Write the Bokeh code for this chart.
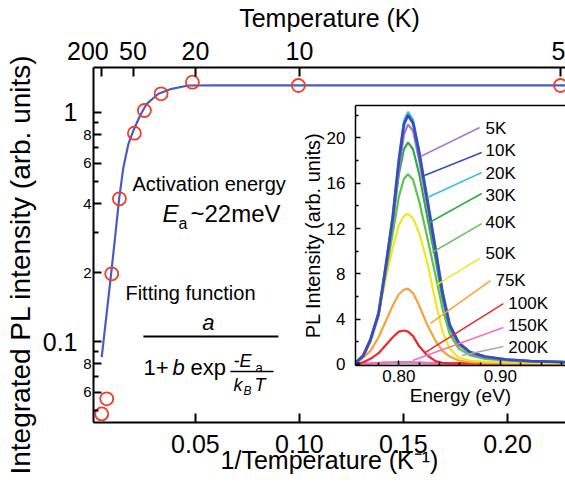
from bokeh.plotting import figure
from bokeh.models import LinearAxis, LogAxis, FixedTicker, Grid
from bokeh.layouts import column
from bokeh.core.properties import value
from bokeh.embed import file_html
from bokeh.resources import INLINE

FONT = "Liberation Sans"
NB = "\u00a0"

# ---------------- main plot data ----------------
temps_K = [200, 150, 100, 75, 50, 40, 30, 20, 10, 5]
inv_temp = [0.00495, 0.00736, 0.00976, 0.01346, 0.02067, 0.02548, 0.03351, 0.04856, 0.0995, 0.2255]
pl_integrated = [0.0483, 0.0562, 0.1975, 0.420, 0.812, 1.02, 1.207, 1.356, 1.312, 1.312]

fit_inv_temp = [0.00495, 0.00659, 0.00947, 0.01139, 0.01332, 0.01538, 0.01779, 0.02019,
                0.02341, 0.02659, 0.03221, 0.0386, 0.0466, 0.06, 0.1, 0.15, 0.228]
fit_pl = [0.0855, 0.1155, 0.1975, 0.2854, 0.420, 0.577, 0.730, 0.834,
          0.970, 1.091, 1.207, 1.269, 1.312, 1.313, 1.313, 1.313, 1.313]

top_tick_pos = [0.005, 0.02, 0.05, 0.1, 0.2255]
top_tick_labels = ["200" + NB * 4, "50", "20", "10", "5"]
bottom_ticks = [0.05, 0.10, 0.15, 0.20]
bottom_tick_labels = ["0.05", "0.10", "0.15", "0.20"]
left_small_ticks = [0.06, 0.08, 0.1, 0.2, 0.4, 0.6, 0.8, 1.0]
left_small_labels = ["6", "8", "", "2", "4", "6", "8", ""]
left_minor_ticks = [0.05, 0.07, 0.09, 0.3, 0.5, 0.7, 0.9]
left_big_ticks = [0.1, 1.0]
left_big_labels = ["0.1", "1"]

# ---------------- inset data ----------------
energy_eV = [0.757, 0.765, 0.772, 0.780, 0.787, 0.794, 0.800, 0.805, 0.809, 0.814, 0.820,
             0.828, 0.836, 0.843, 0.850, 0.859, 0.870, 0.885, 0.905, 0.930, 0.965]
pl_5K = [0.1, 0.7, 2.0, 4.3, 8.3, 12.6, 17.2, 20.3, 21.2, 20.6, 18.0, 14.0, 9.8, 6.1, 3.3, 1.8, 1.0, 0.6, 0.4, 0.3, 0.2]
pl_10K = [0.1, 0.8, 2.2, 4.5, 8.6, 13.0, 18.0, 21.2, 22.0, 21.3, 18.7, 14.5, 10.2, 6.3, 3.5, 1.9, 1.1, 0.7, 0.45, 0.3, 0.2]
pl_20K = [0.1, 0.8, 2.2, 4.6, 8.7, 13.2, 18.2, 21.5, 22.3, 21.6, 18.9, 14.7, 10.4, 6.5, 3.6, 1.9, 1.1, 0.7, 0.45, 0.3, 0.2]
pl_30K = [0.1, 0.8, 2.2, 4.5, 8.3, 12.5, 16.8, 19.0, 19.6, 19.0, 16.8, 13.0, 9.3, 5.8, 3.2, 1.7, 1.0, 0.6, 0.4, 0.3, 0.2]
pl_40K = [0.1, 0.8, 2.1, 4.4, 8.0, 11.6, 14.8, 16.4, 16.8, 16.3, 14.4, 11.2, 7.9, 4.9, 2.7, 1.4, 0.8, 0.5, 0.35, 0.25, 0.2]
pl_50K = [0.1, 0.8, 2.1, 4.3, 7.6, 10.3, 12.3, 13.1, 13.3, 12.9, 11.6, 9.0, 5.6, 2.9, 1.4, 0.6, 0.35, 0.25, 0.2, 0.15, 0.1]
pl_75K = [0.1, 0.6, 1.2, 2.4, 3.8, 5.2, 6.2, 6.6, 6.7, 6.3, 5.2, 3.5, 2.1, 1.2, 0.7, 0.35, 0.2, 0.15, 0.1, 0.1, 0.1]
pl_100K = [0.05, 0.2, 0.5, 1.0, 1.7, 2.4, 2.9, 3.0, 2.9, 2.5, 1.6, 0.8, 0.3, 0.15, 0.1, 0.1, 0.1, 0.1, 0.1, 0.1, 0.1]
pl_150K = [0.1, 0.1, 0.12, 0.15, 0.18, 0.2, 0.22, 0.22, 0.22, 0.2, 0.18, 0.15, 0.12, 0.1, 0.1, 0.1, 0.1, 0.1, 0.1, 0.1, 0.1]
pl_200K = [0.05, 0.05, 0.06, 0.07, 0.08, 0.09, 0.1, 0.1, 0.1, 0.1, 0.09, 0.08, 0.07, 0.06, 0.06, 0.05, 0.05, 0.05, 0.05, 0.05, 0.05]

series_labels = ["5K", "10K", "20K", "30K", "40K", "50K", "75K", "100K", "150K", "200K"]
series_values = [pl_5K, pl_10K, pl_20K, pl_30K, pl_40K, pl_50K, pl_75K, pl_100K, pl_150K, pl_200K]
series_colors = ["#9a7fd0", "#3b4db8", "#35c0e8", "#2fae3f", "#5ec24e",
                 "#f2e61c", "#f8a23a", "#ea2a2a", "#f070c0", "#a9a9a9"]

inset_xticks = [0.8, 0.9]
inset_xtick_labels = ["0.80", "0.90"]
inset_xminor = [0.76, 0.78, 0.82, 0.84, 0.86, 0.88, 0.92, 0.94, 0.96]
inset_yticks = [0, 4, 8, 12, 16, 20]
inset_yminor = [2, 6, 10, 14, 18, 22]

# legend label anchors / leader lines (annotation layout, inset data units)
lab_x = [0.8854, 0.8854, 0.8854, 0.8854, 0.8854, 0.8854, 0.8951, 0.9078, 0.9078, 0.9078]
lab_y = [20.83, 18.89, 16.86, 14.92, 12.53, 9.80, 7.41, 5.38, 3.44, 1.50]
lead_x0 = [0.8796, 0.8816, 0.8816, 0.8816, 0.8816, 0.8796, 0.8903, 0.9029, 0.9029, 0.9029]
lead_y0 = [20.92, 18.71, 16.95, 15.09, 12.44, 9.36, 7.41, 5.38, 3.27, 1.59]
lead_x1 = [0.8214, 0.8252, 0.8282, 0.8301, 0.8330, 0.8359, 0.8311, 0.8262, 0.8136, 0.8621]
lead_y1 = [18.36, 16.68, 14.74, 12.53, 9.89, 6.97, 3.62, 1.06, 0.35, 0.79]


def style_axis(ax, label_size, title_size, tick_in, minor_in=0, lw=2.0):
    ax.major_label_text_font = FONT
    ax.major_label_text_font_size = label_size
    ax.major_label_text_color = "black"
    ax.axis_label_text_font = FONT
    ax.axis_label_text_font_size = title_size
    ax.axis_label_text_font_style = "normal"
    ax.axis_label_text_color = "black"
    ax.major_tick_in = tick_in
    ax.major_tick_out = 0
    ax.minor_tick_in = minor_in
    ax.minor_tick_out = 0
    ax.axis_line_width = lw
    ax.major_tick_line_width = lw
    ax.minor_tick_line_width = lw
    ax.axis_line_color = "black"
    ax.major_tick_line_color = "black"
    ax.minor_tick_line_color = "black"


def put(fig, x, y, s, size, style="normal", align="left"):
    fig.text(x=[x], y=[y], text=[s], text_font=value(FONT), text_font_size=value(size),
             text_font_style=value(style), text_align=value(align),
             text_baseline=value("middle"), text_color="black")


# ---------------- main figure ----------------
p = figure(width=565, height=486, x_range=(0.001, 0.2279), y_range=(0.0443, 1.572),
           y_axis_type="log", x_axis_location=None, y_axis_location=None,
           output_backend="svg", toolbar_location=None,
           min_border_left=93, min_border_right=0, min_border_top=67, min_border_bottom=64)
p.frame_align = False
p.center = [r for r in p.center if not isinstance(r, Grid)]
p.outline_line_color = None
p.background_fill_color = "white"
p.border_fill_color = "white"

ax_b = LinearAxis(ticker=FixedTicker(ticks=bottom_ticks, minor_ticks=[]),
                  major_label_overrides=dict(zip(bottom_ticks, bottom_tick_labels)),
                  axis_label="1/Temperature (K\u207b\u00b9)")
style_axis(ax_b, "25px", "25px", 9)
ax_b.major_label_standoff = 12
ax_b.axis_label_standoff = -10
p.add_layout(ax_b, "below")

ax_t = LinearAxis(ticker=FixedTicker(ticks=top_tick_pos, minor_ticks=[]),
                  major_label_overrides=dict(zip(top_tick_pos, top_tick_labels)),
                  axis_label="Temperature (K)")
style_axis(ax_t, "25px", "25px", 9)
ax_t.major_label_standoff = 3
ax_t.axis_label_standoff = 2
p.add_layout(ax_t, "above")

ax_l1 = LogAxis(ticker=FixedTicker(ticks=left_small_ticks, minor_ticks=left_minor_ticks),
                major_label_overrides=dict(zip(left_small_ticks, left_small_labels)))
style_axis(ax_l1, "15px", "15px", 8, 5)
ax_l1.major_label_standoff = 2
p.add_layout(ax_l1, "left")

ax_l2 = LogAxis(ticker=FixedTicker(ticks=left_big_ticks, minor_ticks=[]),
                major_label_overrides=dict(zip(left_big_ticks, left_big_labels)),
                axis_label="Integrated PL intensity (arb. units)" + NB * 5)
style_axis(ax_l2, "25px", "28px", 0, 0)
ax_l2.axis_line_color = None
ax_l2.major_tick_line_color = None
ax_l2.minor_tick_line_color = None
ax_l2.major_label_standoff = 3
ax_l2.axis_label_standoff = 4
p.add_layout(ax_l2, "left")

p.line(fit_inv_temp, fit_pl, line_color="#4a5cc0", line_width=2.2)
p.scatter(inv_temp, pl_integrated, marker="circle", size=13, fill_color=None,
          line_color="#f03c28", line_width=1.8)

# annotations (main)
put(p, 0.01971, 0.4897, "Activation energy", "20px")
put(p, 0.03413, 0.3622, "E", "24px", "italic")
put(p, 0.04183, 0.3290, "a", "16px")
put(p, 0.0476, 0.3622, "~22meV", "24px")
put(p, 0.01635, 0.1622, "Fitting function", "20px")
put(p, 0.05625, 0.1211, "a", "22px", "italic", "center")
p.segment(x0=[0.025], y0=[0.1051], x1=[0.0899], y1=[0.1051], line_color="black", line_width=2)
put(p, 0.025, 0.0770, "1+", "22px")
put(p, 0.03894, 0.0770, "b", "22px", "italic")
put(p, 0.0476, 0.0770, "exp", "22px")
put(p, 0.06827, 0.0818, "-E", "18px", "italic")
put(p, 0.07885, 0.0770, "a", "13px")
p.segment(x0=[0.06683], y0=[0.0740], x1=[0.0875], y1=[0.0740], line_color="black", line_width=1.5)
put(p, 0.06827, 0.0649, "k", "18px", "italic")
put(p, 0.07308, 0.0611, "B", "12px", "italic")
put(p, 0.07837, 0.0649, "T", "18px", "italic")

# ---------------- inset figure ----------------
ins = figure(width=267, height=309, x_range=(0.7573, 0.9641), y_range=(-0.09, 22.86),
             x_axis_location=None, y_axis_location=None, output_backend="svg",
             toolbar_location=None, min_border_left=54, min_border_right=0,
             min_border_top=5, min_border_bottom=44)
ins.frame_align = False
ins.center = [r for r in ins.center if not isinstance(r, Grid)]
ins.border_fill_color = None
ins.background_fill_color = "white"
ins.outline_line_color = None

ix = LinearAxis(ticker=FixedTicker(ticks=inset_xticks, minor_ticks=inset_xminor),
                major_label_overrides=dict(zip(inset_xticks, inset_xtick_labels)),
                axis_label="Energy (eV)")
style_axis(ix, "17px", "19px", 5, 3, 1.5)
ix.major_label_standoff = 4
ix.axis_label_standoff = 0
ins.add_layout(ix, "below")

iy = LinearAxis(ticker=FixedTicker(ticks=inset_yticks, minor_ticks=inset_yminor),
                axis_label="PL Intensity (arb. units)")
style_axis(iy, "17px", "20px", 5, 3, 1.5)
iy.major_label_standoff = 10
iy.axis_label_standoff = 0
ins.add_layout(iy, "left")

itop = LinearAxis(ticker=FixedTicker(ticks=[], minor_ticks=[]))
style_axis(itop, "1px", "1px", 0, 0, 1.5)
itop.major_label_standoff = 0
ins.add_layout(itop, "above")

draw_order = [9, 8, 7, 6, 5, 4, 3, 2, 0, 1]
for i in draw_order:
    ins.line(energy_eV, series_values[i], line_color=series_colors[i],
             line_width=2.8 if series_labels[i] == "10K" else 2.2)

for i, lab in enumerate(series_labels):
    ins.segment(x0=[lead_x0[i]], y0=[lead_y0[i]], x1=[lead_x1[i]], y1=[lead_y1[i]],
                line_color=series_colors[i], line_width=1.5)
    put(ins, lab_x[i], lab_y[i], lab, "17px")

ins.margin = (-386, 0, 77, 298)

layout = column(p, ins)
open("out.html", "w").write(file_html(layout, INLINE))
